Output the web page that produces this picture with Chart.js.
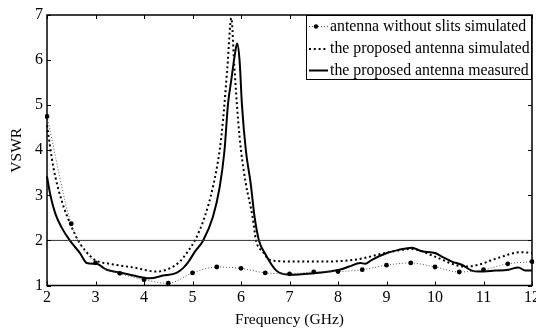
<!DOCTYPE html>
<html>
<head>
<meta charset="utf-8">
<script src="https://cdn.jsdelivr.net/npm/chart.js@4"></script>
<style>
  html, body { margin: 0; padding: 0; background: #fff; }
  #wrap { width: 536px; height: 333px; }
</style>
</head>
<body>
<div id="wrap"><canvas id="c" width="536" height="333"></canvas></div>
<script>
// antenna without slits simulated (markers every 0.5 GHz)
const noSlitFreq = [2, 2.5, 3, 3.5, 4, 4.5, 5, 5.5, 6, 6.5, 7, 7.5, 8, 8.5, 9, 9.5, 10, 10.5, 11, 11.5, 12];
const noSlitVswr = [4.75, 2.37, 1.5, 1.27, 1.13, 1.05, 1.28, 1.41, 1.38, 1.28, 1.26, 1.3, 1.31, 1.35, 1.45, 1.5, 1.41, 1.3, 1.35, 1.48, 1.53];

// the proposed antenna simulated
const simFreq = [2, 2.13, 2.3, 2.54, 2.68, 2.85, 3, 3.3, 3.78, 4.26, 4.53, 4.74, 4.9, 5.05, 5.25, 5.42, 5.56, 5.63, 5.72, 5.8, 5.86, 5.94, 6.0, 6.1, 6.24, 6.31, 6.45, 6.59, 6.79, 7, 7.5, 8, 8.4, 9.05, 9.52, 10, 10.41, 10.62, 10.9, 11.24, 11.79, 12];
const simVswr = [4.55, 3.63, 2.89, 2.22, 1.93, 1.7, 1.56, 1.48, 1.4, 1.31, 1.38, 1.53, 1.75, 2.0, 2.52, 3.18, 4.0, 4.67, 5.85, 6.93, 5.9, 4.67, 4.0, 3.26, 2.52, 2.0, 1.75, 1.57, 1.54, 1.53, 1.53, 1.54, 1.58, 1.74, 1.81, 1.64, 1.46, 1.42, 1.46, 1.59, 1.74, 1.72];

// the proposed antenna measured
const measFreq = [2, 2.07, 2.17, 2.3, 2.47, 2.68, 2.82, 3.02, 3.23, 3.5, 3.78, 4.12, 4.39, 4.67, 4.8, 4.9, 5.05, 5.22, 5.42, 5.56, 5.66, 5.73, 5.8, 5.87, 5.92, 5.97, 6.02, 6.1, 6.2, 6.28, 6.37, 6.5, 6.73, 7.0, 7.48, 7.82, 8.03, 8.23, 8.46, 8.56, 8.7, 9.01, 9.25, 9.52, 9.73, 10.0, 10.14, 10.35, 10.55, 10.76, 10.9, 11.24, 11.51, 11.72, 11.86, 12];
const measVswr = [3.42, 3.0, 2.6, 2.29, 2.0, 1.72, 1.5, 1.48, 1.35, 1.29, 1.22, 1.16, 1.22, 1.28, 1.38, 1.5, 1.75, 2.0, 2.52, 3.18, 4.0, 5.0, 5.56, 6.1, 6.37, 6.0, 5.0, 4.0, 3.26, 2.52, 2.0, 1.7, 1.33, 1.24, 1.27, 1.31, 1.35, 1.42, 1.5, 1.48, 1.57, 1.72, 1.79, 1.84, 1.76, 1.72, 1.64, 1.53, 1.46, 1.33, 1.31, 1.33, 1.35, 1.4, 1.33, 1.33];

// reference line VSWR = 2
const refFreq = [2, 12];
const refVswr = [2, 2];

const xTicks = [2, 3, 4, 5, 6, 7, 8, 9, 10, 11, 12];
const yTicks = [1, 2, 3, 4, 5, 6, 7];

const legendLabels = [
    'antenna without slits simulated',
    'the proposed antenna simulated',
    'the proposed antenna measured'
];

const SERIF = '"Liberation Serif", "Times New Roman", serif';

const toPoints = (xs, ys) => xs.map((x, i) => ({ x: x, y: ys[i] }));

// Рамка, засечки внутрь и легенда
const framePlugin = {
    id: 'frame',
    afterDraw(chart) {
        const { ctx, chartArea: a, scales } = chart;
        ctx.save();
        ctx.strokeStyle = '#000';
        ctx.lineWidth = 1;
        xTicks.forEach(v => {
            const px = Math.round(scales.x.getPixelForValue(v)) + 0.5;
            ctx.beginPath();
            ctx.moveTo(px, a.bottom); ctx.lineTo(px, a.bottom - 4);
            ctx.moveTo(px, a.top); ctx.lineTo(px, a.top + 4);
            ctx.stroke();
        });
        yTicks.forEach(v => {
            const py = Math.round(scales.y.getPixelForValue(v)) + 0.5;
            ctx.beginPath();
            ctx.moveTo(a.left, py); ctx.lineTo(a.left + 4, py);
            ctx.moveTo(a.right, py); ctx.lineTo(a.right - 4, py);
            ctx.stroke();
        });
        ctx.lineWidth = 1.5;
        ctx.strokeRect(a.left, a.top, a.right - a.left, a.bottom - a.top);

        // Легенда
        const bx = 306, by = a.top, bw = a.right - 306, bh = 65;
        ctx.fillStyle = '#fff';
        ctx.fillRect(bx, by, bw, bh);
        ctx.lineWidth = 1;
        ctx.strokeRect(bx + 0.5, by + 0.5, bw - 1, bh - 1);
        const rows = [by + 11.5, by + 34, by + 55.5];
        ctx.font = '15.8px ' + SERIF;
        ctx.fillStyle = '#000';
        ctx.textBaseline = 'middle';
        legendLabels.forEach((t, i) => ctx.fillText(t, 330, rows[i]));

        // образцы линий
        ctx.beginPath();
        ctx.strokeStyle = '#555';
        ctx.lineWidth = 1;
        ctx.setLineDash([1, 2]);
        ctx.moveTo(309, rows[0]); ctx.lineTo(328, rows[0]);
        ctx.stroke();
        ctx.setLineDash([]);
        ctx.beginPath();
        ctx.fillStyle = '#000';
        ctx.arc(316, rows[0], 2.2, 0, Math.PI * 2);
        ctx.fill();

        ctx.beginPath();
        ctx.strokeStyle = '#000';
        ctx.lineWidth = 2;
        ctx.setLineDash([2, 2.8]);
        ctx.moveTo(309, rows[1]); ctx.lineTo(328, rows[1]);
        ctx.stroke();
        ctx.setLineDash([]);

        ctx.beginPath();
        ctx.lineWidth = 2;
        ctx.moveTo(309, rows[2]); ctx.lineTo(328, rows[2]);
        ctx.stroke();
        ctx.restore();
    }
};

new Chart(document.getElementById('c'), {
    type: 'line',
    data: {
        datasets: [
            {
                label: 'VSWR = 2',
                data: toPoints(refFreq, refVswr),
                borderColor: '#333',
                borderWidth: 1,
                pointRadius: 0
            },
            {
                label: legendLabels[0],
                data: toPoints(noSlitFreq, noSlitVswr),
                borderColor: '#555',
                borderWidth: 1,
                borderDash: [1, 2],
                pointRadius: 2.4,
                pointBackgroundColor: '#000',
                pointBorderWidth: 0,
                cubicInterpolationMode: 'monotone'
            },
            {
                label: legendLabels[1],
                data: toPoints(simFreq, simVswr),
                borderColor: '#000',
                borderWidth: 2,
                borderDash: [2, 2.8],
                pointRadius: 0,
                cubicInterpolationMode: 'monotone'
            },
            {
                label: legendLabels[2],
                data: toPoints(measFreq, measVswr),
                borderColor: '#000',
                borderWidth: 2,
                pointRadius: 0,
                cubicInterpolationMode: 'monotone'
            }
        ]
    },
    options: {
        responsive: false,
        animation: false,
        clip: 2,
        layout: { padding: { top: 15, right: 3, left: 8, bottom: 0 } },
        plugins: {
            legend: { display: false },
            tooltip: { enabled: false }
        },
        scales: {
            x: {
                type: 'linear',
                min: 2,
                max: 12,
                afterBuildTicks: s => { s.ticks = xTicks.map(v => ({ value: v })); },
                afterFit: s => { s.height = 47.5; s.paddingLeft = 0; s.paddingRight = 0; },
                grid: { display: false, drawTicks: false },
                border: { display: false },
                ticks: { color: '#000', padding: 3, maxRotation: 0, font: { family: SERIF, size: 16 } },
                title: { display: true, text: 'Frequency (GHz)', color: '#000', padding: { top: 0, bottom: 4 }, font: { family: SERIF, size: 15.5 } }
            },
            y: {
                min: 1,
                max: 7,
                afterBuildTicks: s => { s.ticks = yTicks.map(v => ({ value: v })); },
                afterFit: s => { s.width = 39; s.paddingTop = 0; s.paddingBottom = 0; },
                grid: { display: false, drawTicks: false },
                border: { display: false },
                ticks: { color: '#000', padding: 4, font: { family: SERIF, size: 16 } },
                title: { display: true, text: 'VSWR', color: '#000', padding: 0, font: { family: SERIF, size: 15.5 } }
            }
        }
    },
    plugins: [framePlugin]
});
</script>
</body>
</html>
